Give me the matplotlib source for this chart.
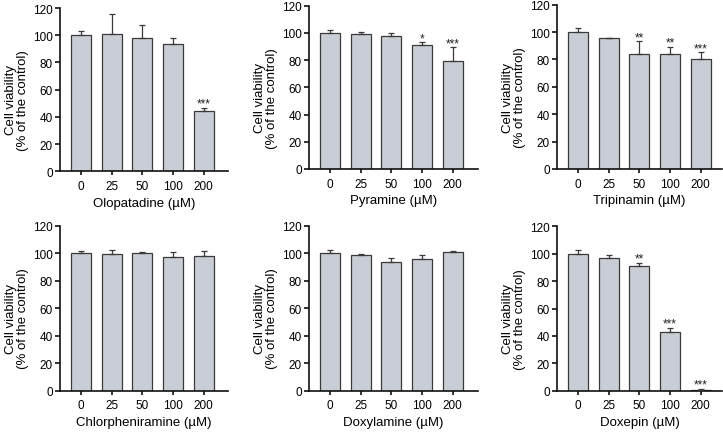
import matplotlib
matplotlib.use("Agg")
import matplotlib.pyplot as plt
import numpy as np

plt.rcParams['font.family'] = ['Liberation Sans', 'DejaVu Sans']

doses = ["0", "25", "50", "100", "200"]

olopatadine_mean = [100.0, 101.0, 98.3, 93.9, 44.0]
olopatadine_err = [3.0, 14.5, 9.1, 4.4, 2.3]
olopatadine_sig = ["", "", "", "", "***"]

pyramine_mean = [99.8, 99.3, 97.8, 91.0, 79.5]
pyramine_err = [2.4, 1.7, 2.2, 2.0, 9.8]
pyramine_sig = ["", "", "", "*", "***"]

tripinamin_mean = [100.0, 95.4, 83.7, 84.1, 80.7]
tripinamin_err = [3.0, 0.3, 9.5, 5.2, 4.4]
tripinamin_sig = ["", "", "**", "**", "***"]

chlorpheniramine_mean = [99.8, 99.3, 100.2, 97.3, 97.8]
chlorpheniramine_err = [1.6, 2.9, 0.5, 3.4, 3.6]
chlorpheniramine_sig = ["", "", "", "", ""]

doxylamine_mean = [99.8, 98.8, 93.7, 95.6, 100.7]
doxylamine_err = [2.4, 0.5, 2.7, 3.2, 1.0]
doxylamine_sig = ["", "", "", "", ""]

doxepin_mean = [99.8, 97.1, 90.8, 42.7, 0.8]
doxepin_err = [2.9, 2.2, 2.2, 3.1, 0.4]
doxepin_sig = ["", "", "**", "***", "***"]

panels = [
    ("Olopatadine (\u00b5M)", olopatadine_mean, olopatadine_err, olopatadine_sig),
    ("Pyramine (\u00b5M)", pyramine_mean, pyramine_err, pyramine_sig),
    ("Tripinamin (\u00b5M)", tripinamin_mean, tripinamin_err, tripinamin_sig),
    ("Chlorpheniramine (\u00b5M)", chlorpheniramine_mean, chlorpheniramine_err, chlorpheniramine_sig),
    ("Doxylamine (\u00b5M)", doxylamine_mean, doxylamine_err, doxylamine_sig),
    ("Doxepin (\u00b5M)", doxepin_mean, doxepin_err, doxepin_sig),
]

W, H = 723, 435
fig = plt.figure(figsize=(W / 100, H / 100), dpi=100)

# pixel boxes: left, right, top, bottom
boxes = [
    (60, 228, 9, 172.3),
    (309, 478, 6.7, 170),
    (557, 722, 5.7, 170),
    (60, 228, 226.7, 391.7),
    (309, 478, 226.7, 391.7),
    (557, 722, 227.3, 391.7),
]

bar_color = "#c9ced6"
edge_color = "#3a3a3a"
unit_px = 30.7

for (label, mean, err, sig), (l, r, t, b) in zip(panels, boxes):
    ax = fig.add_axes([l / W, 1 - b / H, (r - l) / W, (b - t) / H])
    x = np.arange(len(doses))
    ax.bar(x, mean, width=0.65, color=bar_color, edgecolor=edge_color,
           linewidth=0.9, zorder=2)
    ax.errorbar(x, mean, yerr=[np.zeros(len(mean)), err], fmt="none",
                ecolor=edge_color, elinewidth=0.9, capsize=2.3, capthick=0.9,
                zorder=3)
    for xi, m, e, s in zip(x, mean, err, sig):
        if s:
            ax.text(xi, m + e + 1.0, s, ha="center", va="baseline",
                    fontsize=8.5, color="#222222")
    xl = -21 / unit_px
    xr = xl + (r - l) / unit_px
    ax.set_xlim(xl, xr)
    ax.set_ylim(0, 120)
    ax.set_yticks(np.arange(0, 121, 20))
    ax.set_xticks(x)
    ax.set_xticklabels(doses)
    for sp in ["top", "right"]:
        ax.spines[sp].set_visible(False)
    for sp in ["left", "bottom"]:
        ax.spines[sp].set_linewidth(1.2)
        ax.spines[sp].set_color("#111111")
    ax.tick_params(axis="y", length=3.8, width=1.2, labelsize=8.5, pad=1.5,
                   color="#111111")
    ax.tick_params(axis="x", length=3.2, width=1.2, labelsize=8.5, pad=3,
                   color="#111111")
    ax.set_xlabel(label, fontsize=9.5, labelpad=3.5)
    ax.set_ylabel("Cell viability\n(% of the control)", fontsize=9.5,
                  linespacing=1.05)
    ax.yaxis.set_label_coords(-31 / (r - l), 0.44)

fig.savefig("out.png", dpi=100)
